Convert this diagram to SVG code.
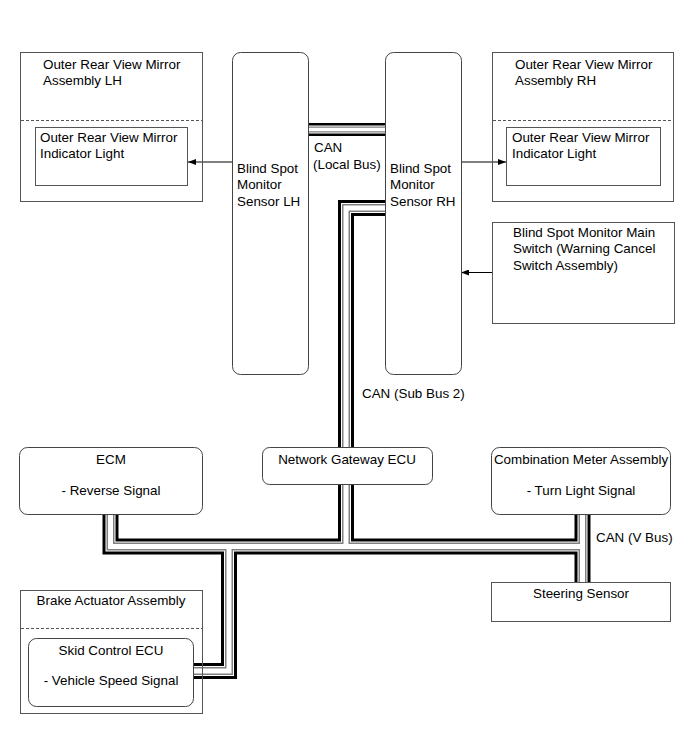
<svg xmlns="http://www.w3.org/2000/svg" width="690" height="756" viewBox="0 0 690 756">
<style>
text{font-family:"Liberation Sans",Arial,sans-serif;font-size:13.4px;fill:#000}
.mid{text-anchor:middle}
.box{fill:#fff;stroke:#555;stroke-width:1}
.obox{fill:none;stroke:#555;stroke-width:1}
.rbox{fill:#fff;stroke:#444;stroke-width:1}
.dash{stroke:#555;stroke-width:1;stroke-dasharray:3 2;fill:none}
.bk{fill:none;stroke:#000;stroke-width:16;stroke-linejoin:miter}
.w1{fill:none;stroke:#fff;stroke-width:10;stroke-linejoin:miter}
.gr{fill:none;stroke:#808080;stroke-width:8;stroke-linejoin:miter}
.w2{fill:none;stroke:#fff;stroke-width:5;stroke-linejoin:miter}
.arr{stroke:#000;stroke-width:1;fill:none;marker-end:url(#ah)}
</style>
<defs>
<marker id="ah" markerWidth="9" markerHeight="6" refX="8" refY="3" orient="auto" markerUnits="userSpaceOnUse">
<path d="M0,0 L8,3 L0,6 z" fill="#000"/>
</marker>
<path id="busLocal" d="M305 129.5 H390"/>
<path id="busSub" d="M390 208 H346 V546.5"/>
<path id="busMain" d="M110.5 510 V546.5 H582.5"/>
<path id="busV" d="M582.5 510 V586"/>
<path id="busBrake" d="M229 546.5 V671 H189"/>
</defs>
<g id="connectors">
<use href="#busLocal" class="bk" style="stroke-width:13"/>
<use href="#busSub" class="bk"/>
<use href="#busMain" class="bk"/>
<use href="#busV" class="bk"/>
<use href="#busBrake" class="bk"/>
<use href="#busLocal" class="w1" style="stroke-width:8"/>
<use href="#busSub" class="w1"/>
<use href="#busMain" class="w1"/>
<use href="#busV" class="w1"/>
<use href="#busBrake" class="w1"/>
<use href="#busLocal" class="gr" style="stroke-width:6"/>
<use href="#busSub" class="gr"/>
<use href="#busMain" class="gr"/>
<use href="#busV" class="gr"/>
<use href="#busBrake" class="gr"/>
<use href="#busLocal" class="w2" style="stroke-width:3.5"/>
<use href="#busSub" class="w2"/>
<use href="#busMain" class="w2"/>
<use href="#busV" class="w2"/>
<use href="#busBrake" class="w2"/>
<line class="arr" x1="232" y1="162" x2="188" y2="162"/>
<line class="arr" x1="461" y1="162" x2="506" y2="162"/>
<line class="arr" x1="492" y1="272.5" x2="461" y2="272.5"/>
<text x="314" y="152">CAN</text>
<text x="313" y="168.5">(Local Bus)</text>
<text x="362" y="398">CAN (Sub Bus 2)</text>
<text x="596" y="542">CAN (V Bus)</text>
</g>
<g id="mirror-lh">
<rect class="obox" x="20.5" y="52.5" width="182" height="149"/>
<line class="dash" x1="21" y1="120.5" x2="202" y2="120.5"/>
<text x="43" y="68.5">Outer Rear View Mirror</text>
<text x="43" y="84.5">Assembly LH</text>
<g id="indicator-lh">
<rect class="obox" x="35.5" y="127.5" width="152" height="58"/>
<text x="40" y="142">Outer Rear View Mirror</text>
<text x="40" y="157.5">Indicator Light</text>
</g>
</g>
<g id="sensor-lh">
<rect class="rbox" x="232.5" y="52.5" width="76" height="322" rx="8"/>
<text x="237" y="172.5">Blind Spot</text>
<text x="237" y="189">Monitor</text>
<text x="237" y="205.5">Sensor LH</text>
</g>
<g id="sensor-rh">
<rect class="rbox" x="385.5" y="52.5" width="76" height="322" rx="8"/>
<text x="390" y="172.5">Blind Spot</text>
<text x="390" y="189">Monitor</text>
<text x="390" y="205.5">Sensor RH</text>
</g>
<g id="mirror-rh">
<rect class="obox" x="492.5" y="52.5" width="181" height="149"/>
<line class="dash" x1="493" y1="120.5" x2="673" y2="120.5"/>
<text x="515" y="68.5">Outer Rear View Mirror</text>
<text x="515" y="84.5">Assembly RH</text>
<g id="indicator-rh">
<rect class="obox" x="506.5" y="127.5" width="154" height="58"/>
<text x="512" y="142">Outer Rear View Mirror</text>
<text x="512" y="157.5">Indicator Light</text>
</g>
</g>
<g id="main-switch">
<rect class="obox" x="492.5" y="222.5" width="182" height="101"/>
<text x="513" y="237">Blind Spot Monitor Main</text>
<text x="513" y="253">Switch (Warning Cancel</text>
<text x="513" y="269.5">Switch Assembly)</text>
</g>
<g id="gateway">
<rect class="rbox" x="262.5" y="447.5" width="170" height="37" rx="7"/>
<text class="mid" x="347" y="463.5">Network Gateway ECU</text>
</g>
<g id="ecm">
<rect class="rbox" x="19.5" y="447.5" width="183" height="67" rx="8"/>
<text class="mid" x="111" y="463.5">ECM</text>
<text class="mid" x="111" y="495">- Reverse Signal</text>
</g>
<g id="combination-meter">
<rect class="rbox" x="491.5" y="447.5" width="179" height="67" rx="8"/>
<text class="mid" x="581" y="463.5">Combination Meter Assembly</text>
<text class="mid" x="581" y="495">- Turn Light Signal</text>
</g>
<g id="steering-sensor">
<rect class="box" x="491.5" y="582.5" width="179" height="39"/>
<text class="mid" x="581" y="597.5">Steering Sensor</text>
</g>
<g id="brake-actuator">
<rect class="obox" x="20.5" y="590.5" width="182" height="123"/>
<text class="mid" x="111" y="605">Brake Actuator Assembly</text>
<line class="dash" x1="21" y1="628.5" x2="202" y2="628.5"/>
<g id="skid-control">
<rect class="rbox" x="28.5" y="638.5" width="165" height="68" rx="8"/>
<text class="mid" x="111" y="655">Skid Control ECU</text>
<text class="mid" x="111" y="685">- Vehicle Speed Signal</text>
</g>
</g>
</svg>
